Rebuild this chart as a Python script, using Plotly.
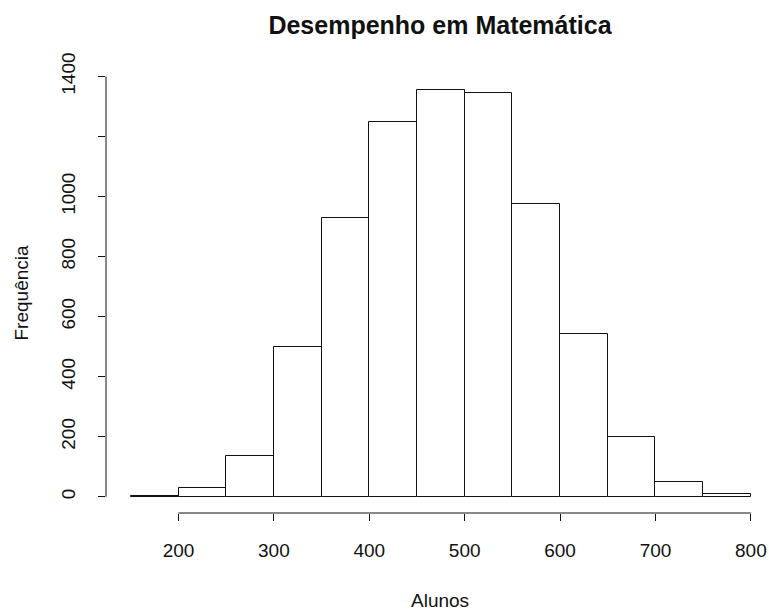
import plotly.graph_objects as go

# Histogram data (bin edges and counts)
bin_edges = [150, 200, 250, 300, 350, 400, 450, 500, 550, 600, 650, 700, 750, 800]
counts = [4, 30, 135, 498, 928, 1248, 1354, 1346, 975, 542, 200, 48, 9]

x_ticks = [200, 300, 400, 500, 600, 700, 800]
y_ticks = [0, 200, 400, 600, 800, 1000, 1200, 1400]
y_tick_labels = ["0", "200", "400", "600", "800", "1000", "", "1400"]

title = "Desempenho em Matemática"
x_label = "Alunos"
y_label = "Frequência"

mids = [(a + b) / 2 for a, b in zip(bin_edges[:-1], bin_edges[1:])]
widths = [b - a for a, b in zip(bin_edges[:-1], bin_edges[1:])]

FONT = "Liberation Sans, Arial, sans-serif"
INK = "#111111"
FS = 19

fig = go.Figure()
fig.add_trace(go.Bar(
    x=mids, y=counts, width=widths,
    marker=dict(color="white", line=dict(color=INK, width=1)),
    hoverinfo="x+y",
))

ymax = max(counts)
fig.update_layout(
    width=769, height=610,
    margin=dict(l=106, r=0, t=74, b=97, autoexpand=False),
    paper_bgcolor="white", plot_bgcolor="white",
    showlegend=False,
    font=dict(family=FONT, size=FS, color=INK),
    bargap=0,
    title=dict(text="<b>" + title + "</b>", x=440 / 769, xanchor="center",
               y=1 - 25 / 610, yanchor="middle",
               font=dict(family=FONT, size=25, color=INK)),
    xaxis=dict(range=[124, 819], showgrid=False, zeroline=False, showline=False,
               tickmode="array", tickvals=x_ticks, ticks="outside", ticklen=7,
               tickwidth=1, tickcolor=INK, ticklabelstandoff=13,
               tickfont=dict(family=FONT, size=FS, color=INK)),
    yaxis=dict(range=[-0.04 * ymax, 1.04 * ymax], showgrid=False, zeroline=False,
               showline=False, tickmode="array", tickvals=y_ticks,
               ticktext=y_tick_labels, ticks="outside", ticklen=7, tickwidth=1,
               tickcolor=INK, tickangle=-90, ticklabelstandoff=15,
               tickfont=dict(family=FONT, size=FS, color=INK)),
)

# R-style axis lines spanning only the first to last tick
fig.add_shape(type="line", xref="x", yref="paper", x0=x_ticks[0], x1=x_ticks[-1],
              y0=0, y1=0, line=dict(color=INK, width=1))
fig.add_shape(type="line", xref="paper", yref="y", x0=0, x1=0,
              y0=y_ticks[0], y1=y_ticks[-1], line=dict(color=INK, width=1))

fig.add_annotation(text=x_label, xref="paper", yref="paper",
                   x=(440 - 106) / 663, y=-(600 - 513) / 439,
                   xanchor="center", yanchor="middle", showarrow=False,
                   font=dict(family=FONT, size=FS, color=INK))
fig.add_annotation(text=y_label, xref="paper", yref="paper",
                   x=-(106 - 21) / 663, y=0.5, textangle=-90,
                   xanchor="center", yanchor="middle", showarrow=False,
                   font=dict(family=FONT, size=FS, color=INK))

fig.write_html("out.html", config={"displayModeBar": False},
               post_script="document.body.style.margin='0';")
